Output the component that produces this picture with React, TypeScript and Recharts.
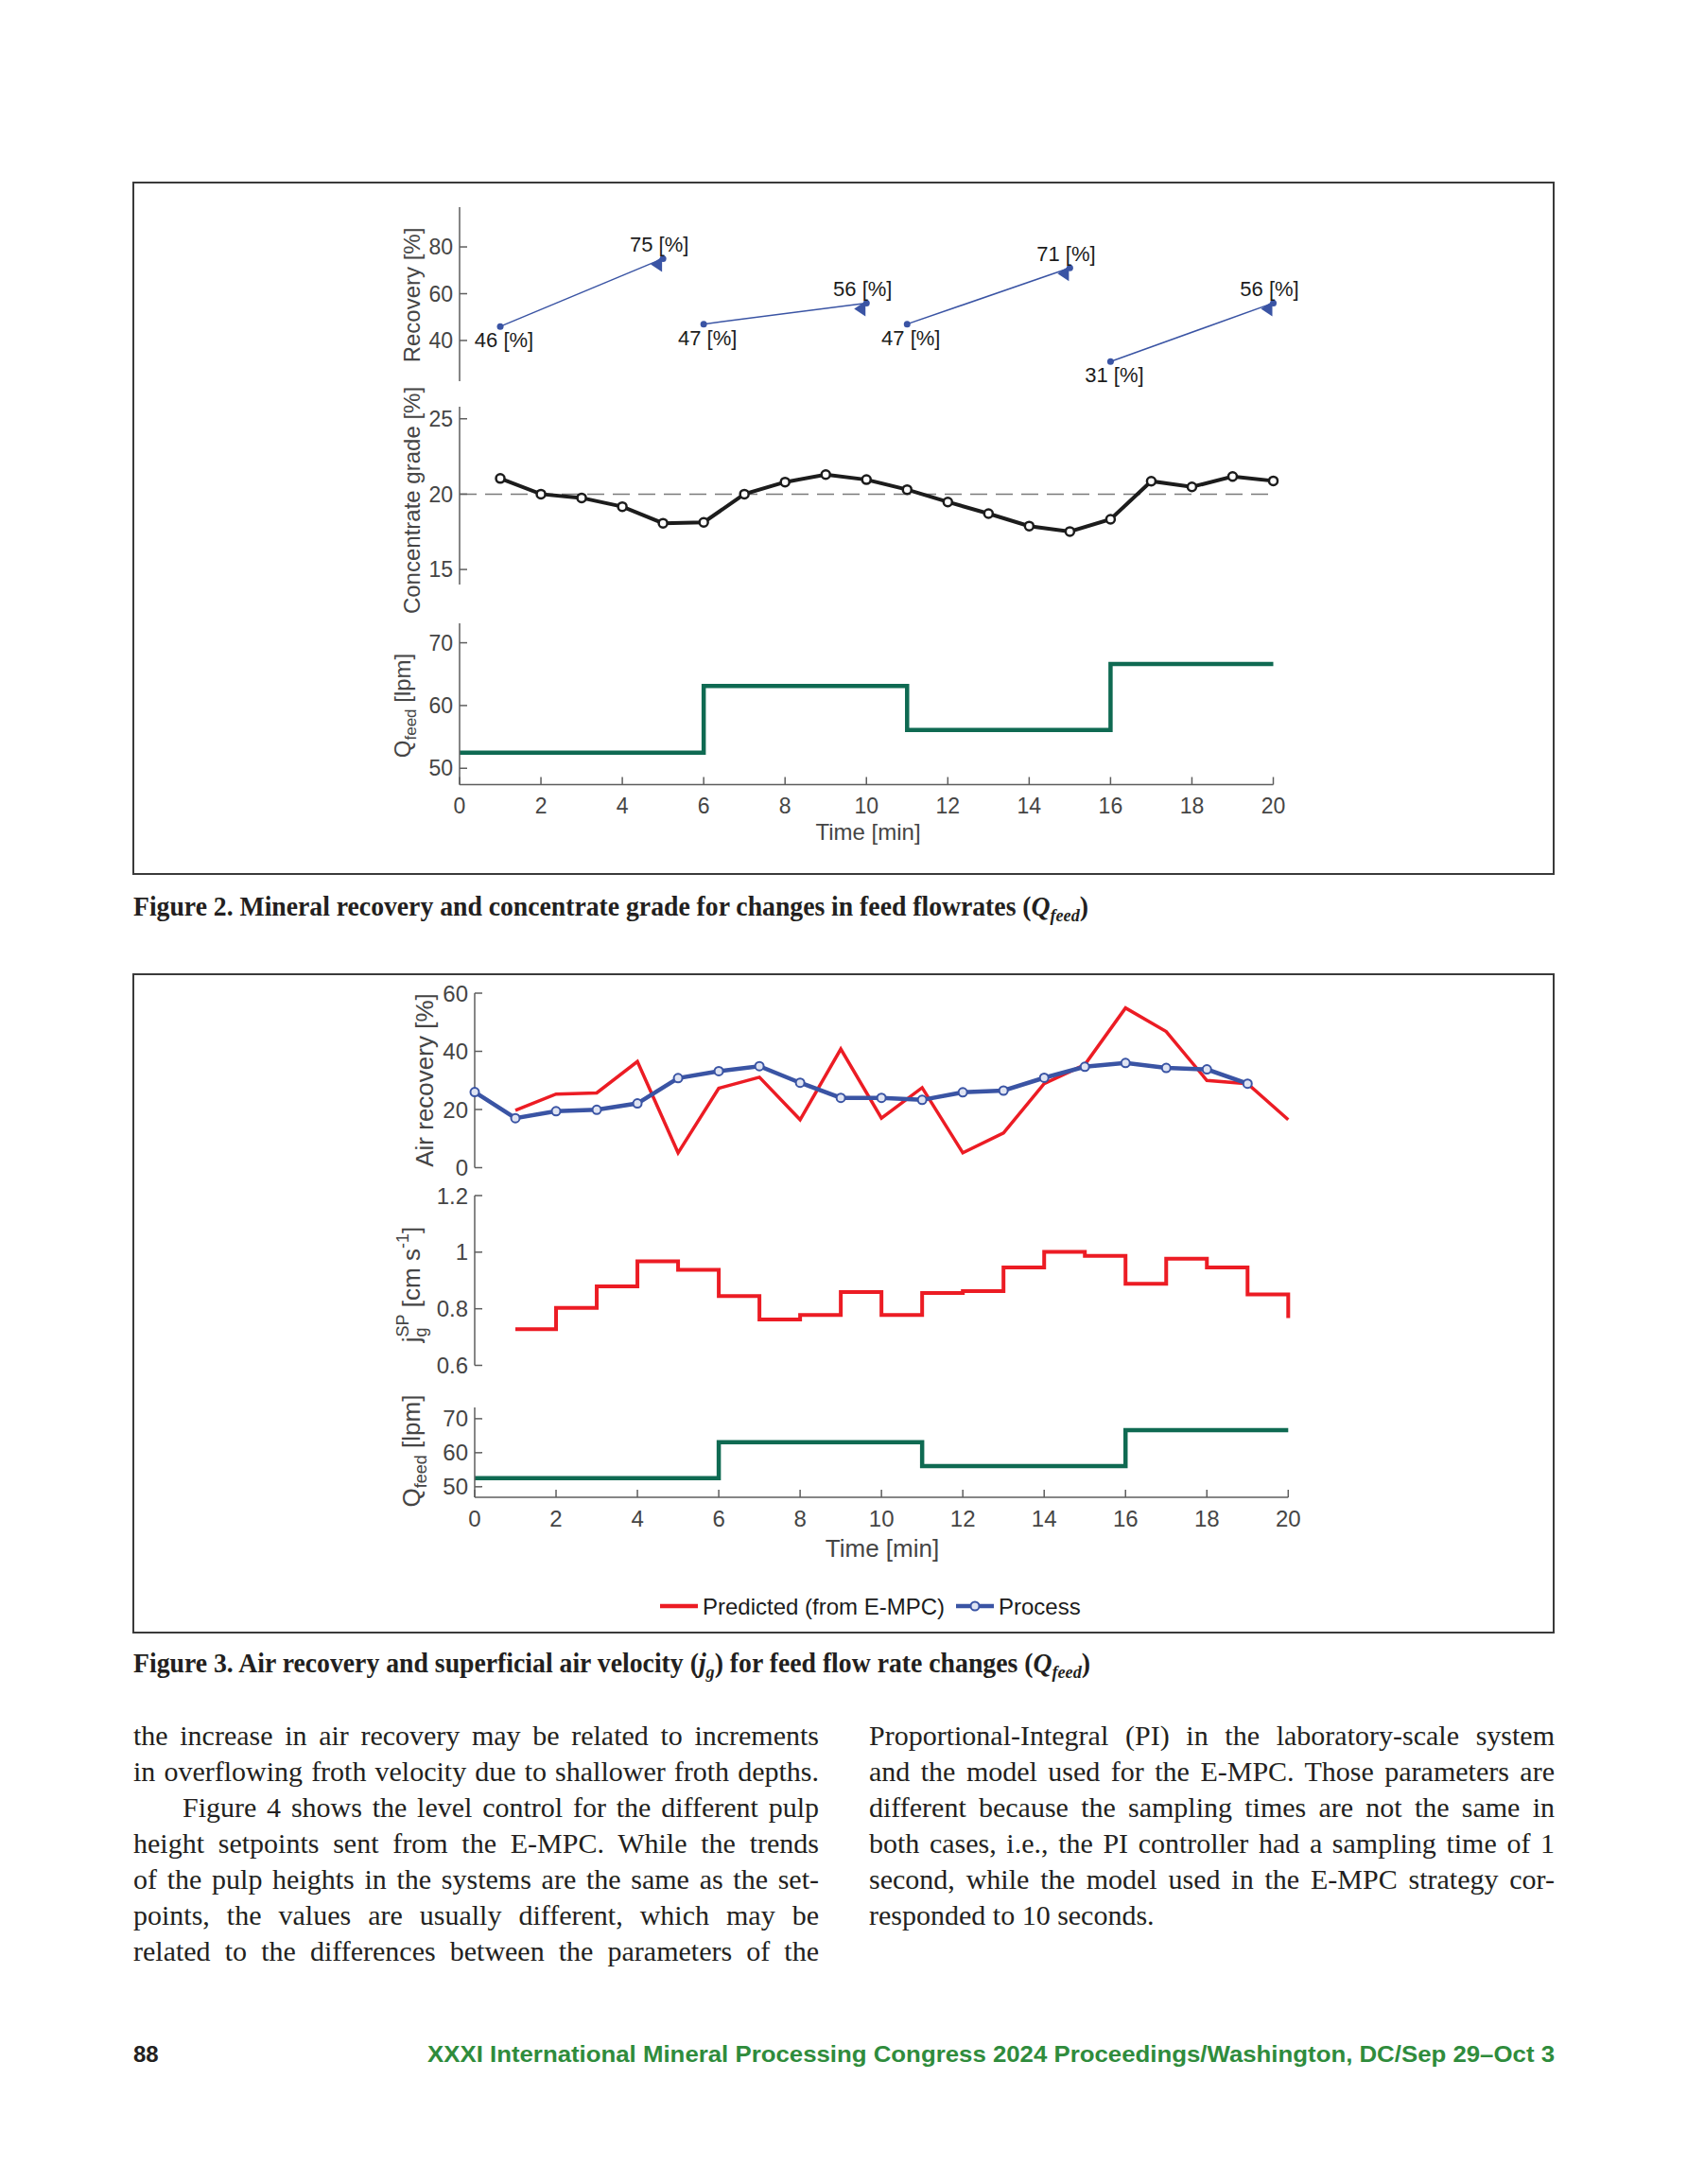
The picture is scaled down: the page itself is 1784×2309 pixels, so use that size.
import React from "react";
import { ComposedChart, Line, XAxis, YAxis, ReferenceLine } from "recharts";

const SANS = '"Liberation Sans", Arial, Helvetica, sans-serif';
const SERIF = '"Liberation Serif", "Times New Roman", serif';
const AXIS_GREY = "#5e5e5e";
const TICK_GREY = "#454545";
const INK = "#231f20";
const BLUE = "#3a54a4";
const RED = "#ec1c24";
const GREEN = "#0f6a52";
const BLACK = "#1c1c1c";

// ---- Figure 2 ----
const timeTicks = [0, 2, 4, 6, 8, 10, 12, 14, 16, 18, 20];

const recoveryStartTime = [1, 6, 11, 16];
const recoveryEndTime = [5, 10, 15, 20];
const recoveryStart = [46, 47, 47, 31];
const recoveryEnd = [75, 56, 71, 56];

const gradeTime = [1, 2, 3, 4, 5, 6, 7, 8, 9, 10, 11, 12, 13, 14, 15, 16, 17, 18, 19, 20];
const grade = [21.04, 20.0, 19.75, 19.17, 18.07, 18.13, 20.0, 20.8, 21.3, 20.96, 20.3, 19.48, 18.71, 17.88, 17.52, 18.33, 20.86, 20.48, 21.17, 20.88];
const gradeSetpoint = 20;

const feedTime = [0, 6, 11, 16, 20];
const feedRate = [52.5, 63.1, 56.1, 66.6, 66.6];

// ---- Figure 3 ----
const processTime = [0, 1, 2, 3, 4, 5, 6, 7, 8, 9, 10, 11, 12, 13, 14, 15, 16, 17, 18, 19];
const airProcess = [26.0, 17.0, 19.4, 19.9, 22.1, 30.8, 33.2, 34.9, 29.2, 24.0, 24.0, 23.3, 25.9, 26.5, 30.9, 34.7, 36.0, 34.3, 33.8, 28.9];
const predictedTime = [1, 2, 3, 4, 5, 6, 7, 8, 9, 10, 11, 12, 13, 14, 15, 16, 17, 18, 19, 20];
const airPredicted = [19.7, 25.3, 25.7, 36.5, 5.1, 27.3, 31.1, 16.5, 40.8, 17.0, 27.5, 5.1, 11.9, 28.9, 35.4, 54.9, 46.8, 30.0, 28.9, 16.5];
const jgTime = [1, 2, 3, 4, 5, 6, 7, 8, 9, 10, 11, 12, 13, 14, 15, 16, 17, 18, 19, 20];
const jgSetpoint = [0.728, 0.803, 0.879, 0.968, 0.938, 0.845, 0.762, 0.778, 0.859, 0.778, 0.856, 0.862, 0.946, 1.001, 0.987, 0.888, 0.977, 0.946, 0.851, 0.767];

const legendItems = [
  { name: "Predicted (from E-MPC)", color: RED, marker: false },
  { name: "Process", color: BLUE, marker: true },
];

const leftColumn = [
  "the increase in air recovery may be related to increments",
  "in overflowing froth velocity due to shallower froth depths.",
  "Figure 4 shows the level control for the different pulp",
  "height setpoints sent from the E-MPC. While the trends",
  "of the pulp heights in the systems are the same as the set-",
  "points, the values are usually different, which may be",
  "related to the differences between the parameters of the",
];
const rightColumn = [
  "Proportional-Integral (PI) in the laboratory-scale system",
  "and the model used for the E-MPC. Those parameters are",
  "different because the sampling times are not the same in",
  "both cases, i.e., the PI controller had a sampling time of 1",
  "second, while the model used in the E-MPC strategy cor-",
  "responded to 10 seconds.",
];

const zip = (t: number[], v: number[]) => t.map((x, i) => ({ t: x, v: v[i] }));

const recoverySegments = recoveryStart.map((v, i) => [
  { t: recoveryStartTime[i], v },
  { t: recoveryEndTime[i], v: recoveryEnd[i] },
]);
const gradeData = zip(gradeTime, grade);
const feedData = zip(feedTime, feedRate);
const processData = zip(processTime, airProcess);
const predictedData = zip(predictedTime, airPredicted);
const jgData = zip(jgTime, jgSetpoint);

// layout of one stacked panel
const YW = 90;
const MT = 22;
const MR = 40;
const MB = 28;
const XH = 60;

function Panel(props: { x0: number; x1: number; y0: number; y1: number; showX?: boolean; children: React.ReactNode }) {
  const { x0, x1, y0, y1, showX, children } = props;
  const w = x1 - x0 + YW + MR;
  const mb = showX ? 2 : MB;
  const h = y1 - y0 + MT + mb + (showX ? XH : 0);
  return (
    <div style={{ position: "absolute", left: x0 - YW, top: y0 - MT, width: w, height: h }}>
      <ComposedChart width={w} height={h} margin={{ top: MT, right: MR, bottom: mb, left: 0 }} style={{ overflow: "visible" }}>
        {children}
      </ComposedChart>
    </div>
  );
}

const yAxis = (domain: number[], ticks: number[], fontSize: number) => ({
  type: "number" as const,
  domain,
  ticks,
  interval: 0,
  width: YW,
  tickSize: -8,
  tickMargin: 15,
  axisLine: { stroke: AXIS_GREY, strokeWidth: 1.5 },
  tickLine: { stroke: AXIS_GREY, strokeWidth: 1.5 },
  tick: { fill: TICK_GREY, fontSize, fontFamily: SANS },
});

const hiddenX = <XAxis hide type="number" dataKey="t" domain={[0, 20]} />;

const timeAxis = (fontSize: number) => (
  <XAxis
    type="number"
    dataKey="t"
    domain={[0, 20]}
    ticks={timeTicks}
    interval={0}
    height={XH}
    tickSize={-8}
    tickMargin={22}
    axisLine={{ stroke: AXIS_GREY, strokeWidth: 1.5 }}
    tickLine={{ stroke: AXIS_GREY, strokeWidth: 1.5 }}
    tick={{ fill: TICK_GREY, fontSize, fontFamily: SANS }}
  />
);

function recoveryDot(props: any) {
  const { cx, cy, index, payload } = props;
  if (cx == null || cy == null) return <g key={`rd-${index}`} />;
  const label = `${payload.v} [%]`;
  if (index === 0) {
    return (
      <g key={`rd-${index}`}>
        <circle cx={cx} cy={cy} r={3.5} fill={BLUE} />
        <text x={cx + 4} y={cy + 22} textAnchor="middle" fontSize={22} fontFamily={SANS} fill={BLACK}>
          {label}
        </text>
      </g>
    );
  }
  return (
    <g key={`rd-${index}`}>
      <polygon points={`${cx - 13},${cy + 6} ${cx - 1},${cy - 2} ${cx - 1},${cy + 14}`} fill={BLUE} />
      <circle cx={cx} cy={cy} r={3.5} fill={BLUE} />
      <text x={cx - 4} y={cy - 7} textAnchor="middle" fontSize={22} fontFamily={SANS} fill={BLACK}>
        {label}
      </text>
    </g>
  );
}

function RotatedLabel(props: { x: number; y: number; size: number; children: React.ReactNode }) {
  return (
    <text
      transform={`translate(${props.x},${props.y}) rotate(-90)`}
      textAnchor="middle"
      fontSize={props.size}
      fontFamily={SANS}
      fill={TICK_GREY}
    >
      {props.children}
    </text>
  );
}

const F2X0 = 486;
const F2X1 = 1346.5;
const F3X0 = 502.4;
const F3X1 = 1362.7;
const F2_TICK = 23;
const F3_TICK = 24;

export default function App() {
  const lineTop = 1816;
  const lineH = 38;
  const bodyStyle: React.CSSProperties = {
    position: "absolute",
    height: lineH,
    lineHeight: `${lineH}px`,
    fontSize: 30,
    fontFamily: SERIF,
    color: INK,
    whiteSpace: "nowrap",
    textAlign: "justify",
  };
  return (
    <div style={{ position: "absolute", left: 0, top: 0, width: 1784, height: 2309, background: "#fff", overflow: "hidden" }}>
      {/* figure frames */}
      <div style={{ position: "absolute", left: 140, top: 192, width: 1504, height: 733, border: "2px solid #3a3a3a", boxSizing: "border-box" }} />
      <div style={{ position: "absolute", left: 140, top: 1029, width: 1504, height: 698, border: "2px solid #3a3a3a", boxSizing: "border-box" }} />

      {/* Figure 2 */}
      <Panel x0={F2X0} x1={F2X1} y0={219} y1={403}>
        {hiddenX}
        <YAxis {...yAxis([22.6, 97], [40, 60, 80], F2_TICK)} />
        {recoverySegments.map((seg, i) => (
          <Line
            key={`seg-${i}`}
            data={seg}
            dataKey="v"
            stroke={BLUE}
            strokeWidth={1.5}
            dot={recoveryDot}
            activeDot={false}
            isAnimationActive={false}
          />
        ))}
      </Panel>
      <Panel x0={F2X0} x1={F2X1} y0={430} y1={618}>
        {hiddenX}
        <YAxis {...yAxis([14, 25.8], [15, 20, 25], F2_TICK)} />
        <ReferenceLine y={gradeSetpoint} stroke="#7a7a7a" strokeWidth={1.5} strokeDasharray="18 9" />
        <Line
          data={gradeData}
          dataKey="v"
          stroke={BLACK}
          strokeWidth={4}
          dot={{ r: 4.5, fill: "#fff", stroke: BLACK, strokeWidth: 2.5 }}
          activeDot={false}
          isAnimationActive={false}
        />
      </Panel>
      <Panel x0={F2X0} x1={F2X1} y0={658.5} y1={829} showX>
        {timeAxis(F2_TICK)}
        <YAxis {...yAxis([47.4, 73.1], [50, 60, 70], F2_TICK)} />
        <Line data={feedData} dataKey="v" type="stepAfter" stroke={GREEN} strokeWidth={4.5} dot={false} activeDot={false} isAnimationActive={false} />
      </Panel>

      {/* Figure 3 */}
      <Panel x0={F3X0} x1={F3X1} y0={1049.5} y1={1234}>
        {hiddenX}
        <YAxis {...yAxis([0, 60], [0, 20, 40, 60], F3_TICK)} />
        <Line data={predictedData} dataKey="v" stroke={RED} strokeWidth={3.5} dot={false} activeDot={false} isAnimationActive={false} />
        <Line
          data={processData}
          dataKey="v"
          stroke={BLUE}
          strokeWidth={4.5}
          dot={{ r: 4.5, fill: "#dfe4f3", stroke: BLUE, strokeWidth: 2 }}
          activeDot={false}
          isAnimationActive={false}
        />
      </Panel>
      <Panel x0={F3X0} x1={F3X1} y0={1264} y1={1443.5}>
        {hiddenX}
        <YAxis {...yAxis([0.6, 1.2], [0.6, 0.8, 1, 1.2], F3_TICK)} />
        <Line data={jgData} dataKey="v" type="stepAfter" stroke={RED} strokeWidth={4} dot={false} activeDot={false} isAnimationActive={false} />
      </Panel>
      <Panel x0={F3X0} x1={F3X1} y0={1488} y1={1583} showX>
        {timeAxis(F3_TICK)}
        <YAxis {...yAxis([46.9, 73.3], [50, 60, 70], F3_TICK)} />
        <Line data={feedData} dataKey="v" type="stepAfter" stroke={GREEN} strokeWidth={4.5} dot={false} activeDot={false} isAnimationActive={false} />
      </Panel>

      {/* titles, captions, footer */}
      <svg width={1784} height={2309} style={{ position: "absolute", left: 0, top: 0, pointerEvents: "none" }}>
        <RotatedLabel x={444} y={312} size={24}>Recovery [%]</RotatedLabel>
        <RotatedLabel x={444} y={529} size={24}>Concentrate grade [%]</RotatedLabel>
        <RotatedLabel x={434} y={746} size={24}>
          <tspan>Q</tspan>
          <tspan fontSize={17} dy={6}>feed</tspan>
          <tspan dy={-6}>{" [lpm]"}</tspan>
        </RotatedLabel>
        <text x={918} y={888} textAnchor="middle" fontSize={24} fontFamily={SANS} fill={TICK_GREY}>Time [min]</text>

        <RotatedLabel x={457.6} y={1142} size={26}>Air recovery [%]</RotatedLabel>
        <RotatedLabel x={443.6} y={1358} size={26}>
          <tspan>j</tspan>
          <tspan fontSize={18} dy={7}>g</tspan>
          <tspan fontSize={18} dx={-10} dy={-19}>SP</tspan>
          <tspan dy={12}>{" [cm s"}</tspan>
          <tspan fontSize={18} dy={-12}>-1</tspan>
          <tspan dy={12}>{"]"}</tspan>
        </RotatedLabel>
        <RotatedLabel x={443.6} y={1534} size={26}>
          <tspan>Q</tspan>
          <tspan fontSize={18} dy={7}>feed</tspan>
          <tspan dy={-7}>{" [lpm]"}</tspan>
        </RotatedLabel>
        <text x={933} y={1646} textAnchor="middle" fontSize={26} fontFamily={SANS} fill={TICK_GREY}>Time [min]</text>

        {legendItems.map((item, i) => {
          const lx = [698, 1011][i];
          return (
            <g key={item.name}>
              <line x1={lx} x2={lx + 40} y1={1698} y2={1698} stroke={item.color} strokeWidth={4.5} />
              {item.marker && <circle cx={lx + 20} cy={1698} r={4.5} fill="#dfe4f3" stroke={item.color} strokeWidth={2} />}
              <text x={lx + 45} y={1706.5} fontSize={24} fontFamily={SANS} fill={BLACK}>{item.name}</text>
            </g>
          );
        })}

        <text x={141} y={968} fontFamily={SERIF} fontWeight={700} fontSize={29} fill={INK} textLength={1010} lengthAdjust="spacingAndGlyphs">
          <tspan>{"Figure 2. Mineral recovery and concentrate grade for changes in feed flowrates ("}</tspan>
          <tspan fontStyle="italic">Q</tspan>
          <tspan fontStyle="italic" fontSize={19} dy={6}>feed</tspan>
          <tspan dy={-6}>)</tspan>
        </text>
        <text x={141} y={1768} fontFamily={SERIF} fontWeight={700} fontSize={29} fill={INK} textLength={1012} lengthAdjust="spacingAndGlyphs">
          <tspan>{"Figure 3. Air recovery and superficial air velocity ("}</tspan>
          <tspan fontStyle="italic">j</tspan>
          <tspan fontStyle="italic" fontSize={19} dy={6}>g</tspan>
          <tspan dy={-6}>{") for feed flow rate changes ("}</tspan>
          <tspan fontStyle="italic">Q</tspan>
          <tspan fontStyle="italic" fontSize={19} dy={6}>feed</tspan>
          <tspan dy={-6}>)</tspan>
        </text>

        <text x={141} y={2180} fontFamily={SANS} fontWeight={700} fontSize={24} fill={INK}>88</text>
        <text x={452} y={2180} fontFamily={SANS} fontWeight={700} fontSize={24} fill="#2f8c3c" textLength={1192} lengthAdjust="spacingAndGlyphs">
          XXXI International Mineral Processing Congress 2024 Proceedings/Washington, DC/Sep 29–Oct 3
        </text>
      </svg>

      {/* body text */}
      {leftColumn.map((s, i) => (
        <div
          key={`l-${i}`}
          style={{
            ...bodyStyle,
            left: i === 2 ? 193 : 141,
            top: lineTop + i * lineH,
            width: i === 2 ? 673 : 725,
            textAlignLast: "justify",
          }}
        >
          {s}
        </div>
      ))}
      {rightColumn.map((s, i) => (
        <div
          key={`r-${i}`}
          style={{
            ...bodyStyle,
            left: 919,
            top: lineTop + i * lineH,
            width: 725,
            textAlignLast: i === rightColumn.length - 1 ? "left" : "justify",
          }}
        >
          {s}
        </div>
      ))}
    </div>
  );
}
